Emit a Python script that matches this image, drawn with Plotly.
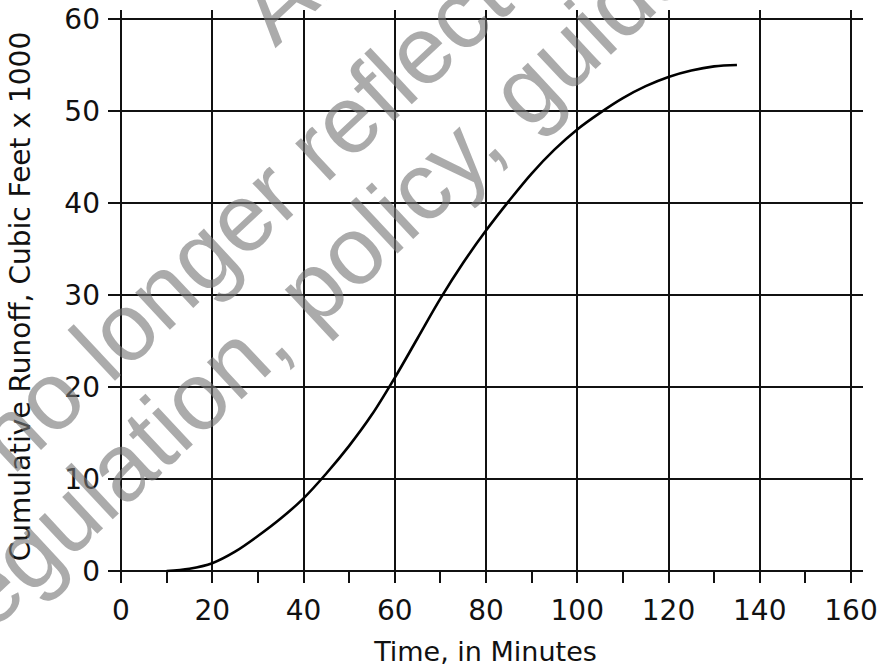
import math
import plotly.graph_objects as go

# ---- data ----
time_min = [10, 15, 20, 25, 30, 35, 40, 45, 50, 55, 60, 65, 70,
            75, 80, 85, 90, 95, 100, 105, 110, 115, 120, 125, 130, 135]
runoff_kcf = [0.0, 0.25, 0.85, 2.1, 3.8, 5.7, 7.9, 10.6, 13.6, 17.0, 21.0, 25.3, 29.6,
              33.5, 37.0, 40.2, 43.2, 45.8, 48.0, 49.8, 51.4, 52.7, 53.7, 54.4, 54.85, 55.0]

x_ticks = [0, 20, 40, 60, 80, 100, 120, 140, 160]
y_ticks = [0, 10, 20, 30, 40, 50, 60]
x_title = "Time, in Minutes"
y_title = "Cumulative Runoff, Cubic Feet x 1000"
watermark_lines = ["Archived", "no longer reflects current", "regulation, policy, guidance"]

# ---- layout geometry (page body margin removed below) ----
W, H = 883, 672
ML, MR, MT, MB = 108, 20, 10, 89
PW, PH = W - ML - MR, H - MT - MB
FONT = "DejaVu Sans"
INK = "#111111"

fig = go.Figure()
fig.add_trace(go.Scatter(
    x=time_min, y=runoff_kcf, mode="lines",
    line=dict(color="black", width=2.6, shape="spline", smoothing=1.0),
    showlegend=False, hoverinfo="skip"))

fig.update_layout(
    width=W, height=H,
    margin=dict(l=ML, r=MR, t=MT, b=MB),
    paper_bgcolor="white", plot_bgcolor="white",
    font=dict(family=FONT, size=28, color=INK),
    showlegend=False,
)
fig.update_xaxes(
    range=[-2.849, 162.63], tickmode="array", tickvals=x_ticks,
    ticktext=[str(v) for v in x_ticks], automargin=False,
    showgrid=True, gridcolor=INK, gridwidth=1.5, zeroline=False,
    showline=False, ticks="", tickfont=dict(size=28), ticklabelstandoff=8,
    ticklabeloverflow="allow",
    minor=dict(tick0=10, dtick=20, ticks="inside", ticklen=12,
               tickwidth=1.5, tickcolor=INK, showgrid=False),
    title=dict(text=x_title, font=dict(size=27), standoff=16),
)
fig.update_yaxes(
    range=[-1.304, 60.978], tickmode="array", tickvals=y_ticks,
    ticktext=[str(v) for v in y_ticks], automargin=False,
    showgrid=True, gridcolor=INK, gridwidth=1.5, zeroline=False,
    showline=False, ticks="", tickfont=dict(size=28), ticklabelstandoff=7,
    ticklabeloverflow="allow",
    title=dict(text=y_title, font=dict(size=28), standoff=25),
)

# ---- watermark (gray rotated text), positioned in page pixels ----
ANG = 43.0
FS_WM = 96
ux, uy = math.cos(math.radians(ANG)), -math.sin(math.radians(ANG))
vx, vy = -math.sin(math.radians(ANG)), -math.cos(math.radians(ANG))
# baseline start (page pixels) of each line and its length in em (Arial metrics)
starts = [(275, 48), (12.7, 475.6), (-36, 657)]
lengths_em = [3.89, 11.06, 12.117]
for txt, (sx, sy), lem in zip(watermark_lines, starts, lengths_em):
    half = lem * FS_WM / 2
    cx = sx + half * ux + 0.3465 * FS_WM * vx
    cy = sy + half * uy + 0.3465 * FS_WM * vy
    fig.add_annotation(
        x=(cx - ML) / PW, y=(MT + PH - cy) / PH, xref="paper", yref="paper",
        text=txt, showarrow=False, textangle=-ANG,
        xanchor="center", yanchor="middle",
        font=dict(family="Liberation Sans", size=FS_WM, color="rgba(120,120,120,0.62)"),
    )

fig.write_html("out.html", config={"displayModeBar": False},
               post_script="document.body.style.margin='0';document.body.style.overflow='hidden';")
